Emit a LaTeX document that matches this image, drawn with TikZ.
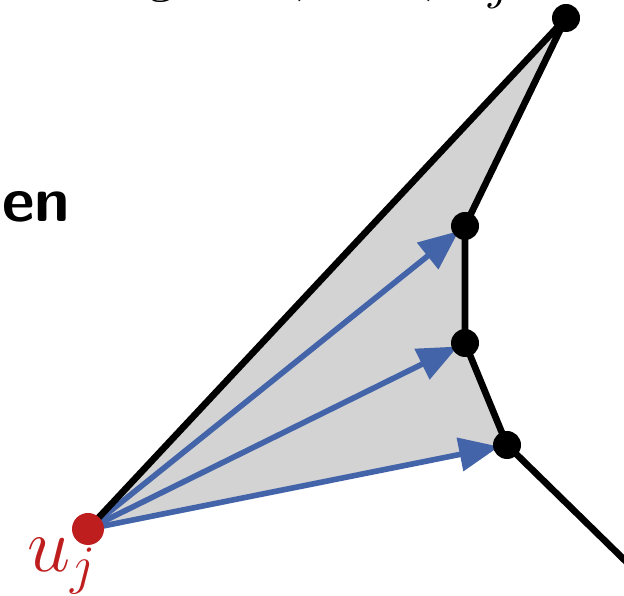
\documentclass[tikz,border=0pt]{standalone}
\usepackage{fix-cm}
\usepackage{xcolor}
\definecolor{fanblue}{HTML}{4464AA}
\definecolor{apexred}{HTML}{BE1E1E}
\definecolor{wedgegray}{HTML}{D3D3D3}
\usepackage{tikz}
\usetikzlibrary{arrows.meta}
\tikzset{
  vtx/.style={circle, fill=black, inner sep=0pt, minimum size=0.56cm},
  edge/.style={line width=3.8pt, black},
  fan/.style={line width=3.2pt, color=fanblue,
    -{Triangle[length=0.8cm,width=0.66cm]}, shorten >=0.16cm},
}

\begin{document}
\begin{tikzpicture}
  \useasboundingbox (0,0) rectangle (12.48,11.9);
  % Vertices of the chain
  \coordinate (t) at (11.32,11.54);
  \coordinate (a) at (9.30,7.38);
  \coordinate (b) at (9.30,5.04);
  \coordinate (c) at (10.14,3.00);
  \coordinate (u) at (1.76,1.32);
  \coordinate (out) at (13.0,0.2);
  % Shaded region
  \fill[wedgegray] (u) -- (t) -- (a) -- (b) -- (c) -- cycle;
  % Fan of arrows from u_j
  \foreach \v in {a,b,c} {
    \draw[fan] (u) -- (\v);
  }
  % Boundary edges
  \draw[edge, line join=round] (u) -- (t) -- (a) -- (b) -- (c) -- (out);
  \foreach \v in {t,a,b,c} {
    \node[vtx] (n\v) at (\v) {};
  }
  \node[circle, fill=apexred, inner sep=0pt, minimum size=0.64cm] (nu) at (u) {};
  % Labels
  \node[anchor=base west, inner sep=0pt, text=apexred,
        font=\fontsize{44}{50}\selectfont] (ulabel) at (0.55,0.46) {$u_j$};
  \node[anchor=base west, inner sep=0pt,
        font=\fontsize{36}{42}\selectfont\sffamily\bfseries] (en) at (0.04,7.46) {en};
  \node[anchor=base west, inner sep=0pt,
        font=\fontsize{42}{48}\selectfont] (toptext) at (3.0,12.15) {$g\hspace{0.6em}v_2, \ldots, v_j$};
\end{tikzpicture}
\end{document}
